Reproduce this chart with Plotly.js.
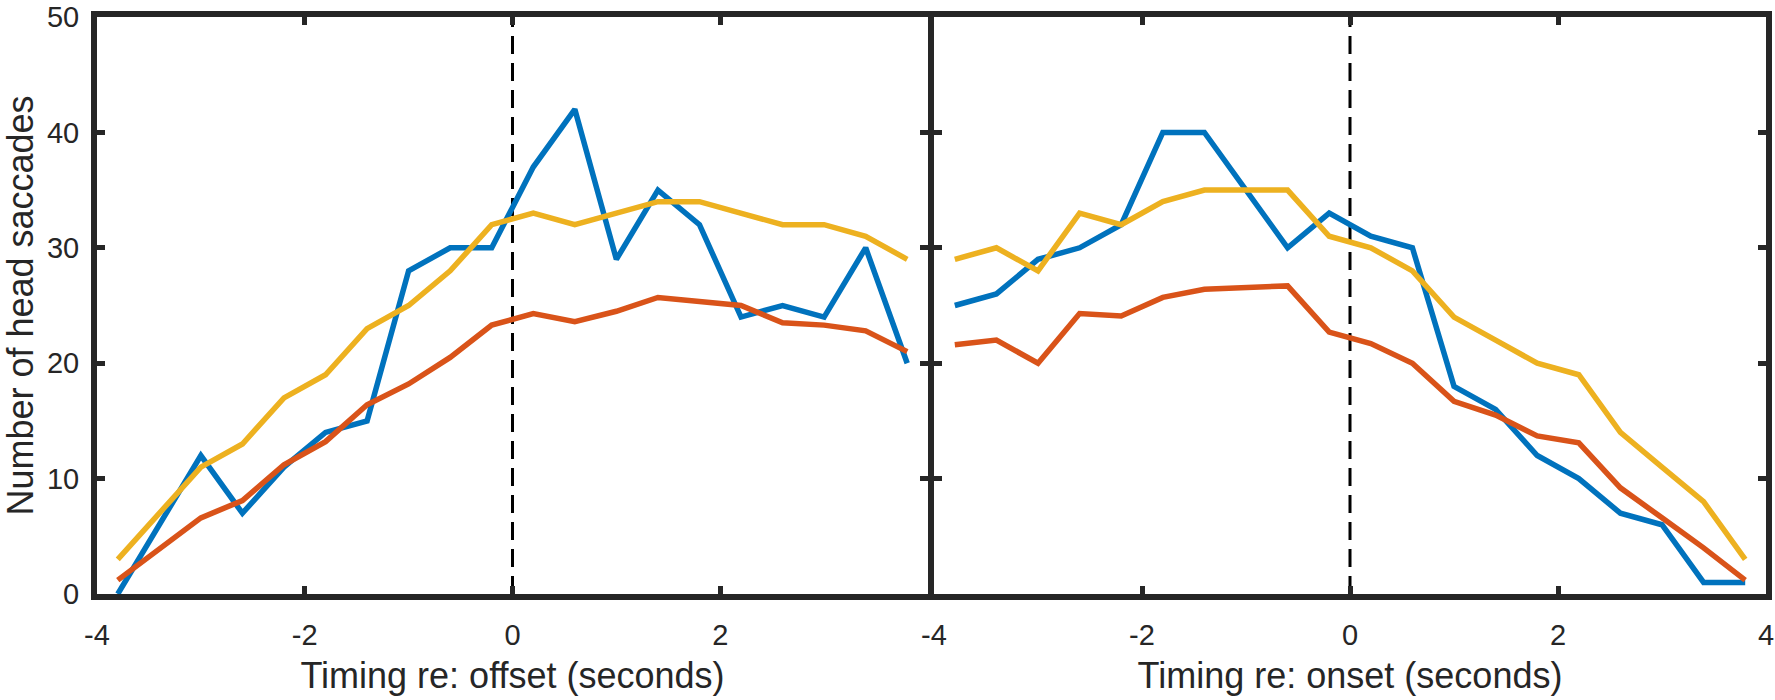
<!DOCTYPE html>
<html>
<head>
<meta charset="utf-8">
<script src="https://cdn.plot.ly/plotly-3.0.1.min.js"></script>
<style>
  html, body { margin: 0; padding: 0; background: #fff; }
  #chart { width: 1775px; height: 700px; }
</style>
</head>
<body>
<div id="chart"></div>
<script>
// bin centres (seconds)
const timeBins = [-3.8, -3.4, -3.0, -2.6, -2.2, -1.8, -1.4, -1.0, -0.6, -0.2,
                  0.2, 0.6, 1.0, 1.4, 1.8, 2.2, 2.6, 3.0, 3.4, 3.8];

// left panel: timing re offset
const offsetBlue   = [0, 6, 12, 7, 11, 14, 15, 28, 30, 30, 37, 42, 29, 35, 32, 24, 25, 24, 30, 20];
const offsetRed    = [1.2, 3.9, 6.6, 8.1, 11.2, 13.2, 16.4, 18.2, 20.5, 23.3,
                      24.3, 23.6, 24.5, 25.7, 25.4, 25.0, 23.5, 23.3, 22.8, 21.0];
const offsetYellow = [3, 7, 11, 13, 17, 19, 23, 25, 28, 32, 33, 32, 33, 34, 34, 33, 32, 32, 31, 29];

// right panel: timing re onset
const onsetBlue   = [25, 26, 29, 30, 32, 40, 40, 35, 30, 33, 31, 30, 18, 16, 12, 10, 7, 6, 1, 1];
const onsetRed    = [21.6, 22.0, 20.0, 24.3, 24.1, 25.7, 26.4, 26.5, 26.7, 22.7,
                     21.7, 20.0, 16.7, 15.5, 13.7, 13.1, 9.2, 6.6, 4.0, 1.2];
const onsetYellow = [29, 30, 28, 33, 32, 34, 35, 35, 35, 31, 30, 28, 24, 22, 20, 19, 14, 11, 8, 3];

const leftTicks = [-4, -2, 0, 2];
const leftTickText = ['-4', '-2', '0', '2'];
const rightTicks = [-4, -2, 0, 2, 4];
const rightTickText = ['-4', '-2', '0', '2', '4'];
const yTicks = [0, 10, 20, 30, 40, 50];
const markerX = [0, 0];
const markerY = [0, 50];

const BLUE = '#0072BD', RED = '#D95319', YELLOW = '#EDB120', INK = '#262626';
const FONT = 'Liberation Sans, Arial, Helvetica, sans-serif';

function line(x, y, color, xa, ya) {
  return { x: x, y: y, type: 'scatter', mode: 'lines', xaxis: xa, yaxis: ya,
           line: { color: color, width: 5.5 }, showlegend: false, hoverinfo: 'skip' };
}
function zeroLine(xa, ya) {
  return { x: markerX, y: markerY, type: 'scatter', mode: 'lines', xaxis: xa, yaxis: ya,
           line: { color: '#000', width: 3, dash: '18px,9px' }, showlegend: false, hoverinfo: 'skip' };
}

const traces = [
  zeroLine('x', 'y'),
  zeroLine('x2', 'y2'),
  line(timeBins, offsetBlue, BLUE, 'x', 'y'),
  line(timeBins, offsetRed, RED, 'x', 'y'),
  line(timeBins, offsetYellow, YELLOW, 'x', 'y'),
  line(timeBins, onsetBlue, BLUE, 'x2', 'y2'),
  line(timeBins, onsetRed, RED, 'x2', 'y2'),
  line(timeBins, onsetYellow, YELLOW, 'x2', 'y2')
];

const axisBase = {
  showline: true, linewidth: 6, linecolor: INK, mirror: 'ticks',
  ticks: 'inside', ticklen: 8, tickwidth: 5, tickcolor: INK,
  showgrid: false, zeroline: false, fixedrange: true,
  ticklabeloverflow: 'allow',
  tickfont: { family: FONT, size: 29, color: INK }
};
const titleFont = { family: FONT, size: 36, color: INK };

const layout = {
  width: 1775, height: 700,
  margin: { l: 97, r: 9, t: 17, b: 106 },
  paper_bgcolor: '#fff', plot_bgcolor: '#fff',
  font: { family: FONT, color: INK },
  xaxis: Object.assign({}, axisBase, {
    domain: [0, 0.4979], range: [-4, 4], anchor: 'y',
    tickvals: leftTicks, ticktext: leftTickText, ticklabelstandoff: 10,
    title: { text: 'Timing re: offset (seconds)', font: titleFont, standoff: 15 }
  }),
  xaxis2: Object.assign({}, axisBase, {
    domain: [0.5015, 1], range: [-4, 4], anchor: 'y2',
    tickvals: rightTicks, ticktext: rightTickText, ticklabelstandoff: 10,
    title: { text: 'Timing re: onset (seconds)', font: titleFont, standoff: 15 }
  }),
  yaxis: Object.assign({}, axisBase, {
    domain: [0, 1], range: [0, 50], anchor: 'x',
    tickvals: yTicks, ticklabelstandoff: 6,
    title: { text: 'Number of head saccades', font: titleFont, standoff: 12 }
  }),
  yaxis2: Object.assign({}, axisBase, {
    domain: [0, 1], range: [0, 50], anchor: 'x2',
    tickvals: yTicks, showticklabels: false
  })
};

Plotly.newPlot('chart', traces, layout, { staticPlot: true, displayModeBar: false });
</script>
</body>
</html>
